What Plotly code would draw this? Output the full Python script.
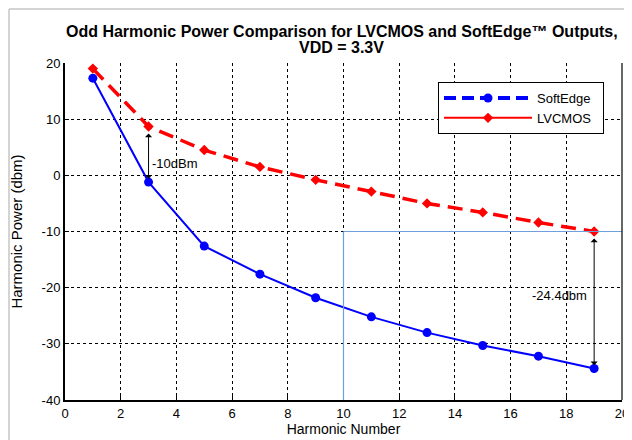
import plotly.graph_objects as go

harmonics = [1, 3, 5, 7, 9, 11, 13, 15, 17, 19]
softedge = [17.3, -1.2, -12.6, -17.6, -21.8, -25.2, -28.0, -30.3, -32.2, -34.4]
lvcmos = [19.0, 8.7, 4.5, 1.5, -0.8, -2.9, -5.0, -6.6, -8.4, -10.0]

x_ticks = [0, 2, 4, 6, 8, 10, 12, 14, 16, 18, 20]
y_ticks = [-40, -30, -20, -10, 0, 10, 20]

title_line1 = "Odd Harmonic Power Comparison for LVCMOS and SoftEdge™ Outputs,"
title_line2 = "VDD = 3.3V"
x_title = "Harmonic Number"
y_title = "Harmonic Power (dbm)"
diff_low_label = "-10dBm"
diff_high_label = "-24.4dbm"
legend_names = ["SoftEdge", "LVCMOS"]

BLUE = "#0000ff"
RED = "#ff0000"
FONT = "Liberation Sans, Arial, sans-serif"

# page has an 8px body margin: figure is 624x432 placed at (8, 8)
W, H = 624, 432
ML, MR, MT, MB = 57, 10, 55, 40
PW, PH = W - ML - MR, H - MT - MB

fig = go.Figure()

fig.add_trace(go.Scatter(x=harmonics, y=lvcmos, mode="lines+markers", showlegend=False,
                         line=dict(color=RED, width=3.5, dash="15px,8px"),
                         marker=dict(symbol="diamond", size=8, color=RED)))
fig.add_trace(go.Scatter(x=harmonics, y=softedge, mode="lines+markers", showlegend=False,
                         line=dict(color=BLUE, width=2),
                         marker=dict(symbol="circle", size=9, color=BLUE)))

fig.add_trace(go.Scatter(x=[None], y=[None], mode="lines+markers",
                         name=legend_names[0] + "\u00a0\u00a0",
                         line=dict(color=BLUE, width=4, dash="12px,6px"),
                         marker=dict(symbol="circle", size=9, color=BLUE)))
fig.add_trace(go.Scatter(x=[None], y=[None], mode="lines+markers",
                         name=legend_names[1],
                         line=dict(color=RED, width=2),
                         marker=dict(symbol="diamond", size=8, color=RED)))

shapes = [
    dict(type="line", xref="x", yref="y", x0=10, x1=10, y0=-10, y1=-40,
         line=dict(color="#6f9fdc", width=1.2)),
    dict(type="line", xref="x", yref="y", x0=10, x1=20, y0=-10, y1=-10,
         line=dict(color="#6f9fdc", width=1.2)),
    dict(type="line", xref="paper", yref="paper", x0=1, x1=1, y0=0, y1=1,
         line=dict(color="black", width=1.2)),
    dict(type="line", xref="paper", yref="paper", x0=(1 - ML) / PW, x1=(1 - ML) / PW,
         y0=-MB / PH, y1=(PH + MT - 1) / PH, line=dict(color="#d4d4d4", width=2)),
    dict(type="line", xref="paper", yref="paper", x0=(1 - ML) / PW, x1=(PW + MR) / PW,
         y0=(PH + MT - 1) / PH, y1=(PH + MT - 1) / PH, line=dict(color="#d4d4d4", width=2)),
]

annotations = [
    dict(x=0.497, y=(PH + MT - 40) / PH, xref="paper", yref="paper", text=title_line2,
         showarrow=False, xanchor="center", yanchor="middle",
         font=dict(family=FONT, size=16, color="black", weight="bold")),
    dict(x=3, y=-0.6, ax=3, ay=7.7, xref="x", yref="y", axref="x", ayref="y",
         text="", showarrow=True, arrowside="end+start", arrowhead=1, arrowsize=1.2,
         arrowwidth=1, arrowcolor="black"),
    dict(x=3.05, y=2.1, xref="x", yref="y", text=diff_low_label, showarrow=False,
         xanchor="left", font=dict(family=FONT, size=13, color="black")),
    dict(x=19, y=-33.8, ax=19, ay=-11.0, xref="x", yref="y", axref="x", ayref="y",
         text="", showarrow=True, arrowside="end+start", arrowhead=1, arrowsize=1.2,
         arrowwidth=1, arrowcolor="black"),
    dict(x=18.8, y=-21.4, xref="x", yref="y", text=diff_high_label, showarrow=False,
         xanchor="right", font=dict(family=FONT, size=13, color="black")),
]

fig.update_layout(
    width=W, height=H,
    margin=dict(l=ML, r=MR, t=MT, b=MB),
    paper_bgcolor="white", plot_bgcolor="white",
    font=dict(family=FONT, size=13, color="black"),
    title=dict(text=title_line1, x=0.497, xref="paper", xanchor="center",
               y=1 - 23 / H, yanchor="middle",
               font=dict(family=FONT, size=16, color="black", weight="bold")),
    showlegend=True,
    legend=dict(x=(438 - 65) / PW, y=(400 - 82) / PH, xanchor="left", yanchor="top",
                bgcolor="white", bordercolor="black", borderwidth=1,
                itemwidth=88, font=dict(family=FONT, size=13, color="black"),
                tracegroupgap=0, itemclick=False),
    shapes=shapes,
    annotations=annotations,
)

fig.update_xaxes(range=[0, 20], tickvals=x_ticks, ticktext=[str(v) for v in x_ticks],
                 showgrid=True, gridcolor="black", griddash="dot", gridwidth=1,
                 zeroline=False, showline=True, linecolor="black", linewidth=2,
                 ticks="inside", ticklen=4, tickcolor="black", automargin=False,
                 title=dict(text=x_title, standoff=5, font=dict(family=FONT, size=14)),
                 tickfont=dict(family=FONT, size=13), fixedrange=True)
fig.update_yaxes(range=[-40, 20], tickvals=y_ticks, ticktext=[str(v) for v in y_ticks],
                 showgrid=True, gridcolor="black", griddash="dot", gridwidth=1,
                 zeroline=False, showline=True, linecolor="black", linewidth=2,
                 ticks="inside", ticklen=4, tickcolor="black", automargin=False,
                 title=dict(text=y_title, standoff=15, font=dict(family=FONT, size=15)),
                 tickfont=dict(family=FONT, size=13), fixedrange=True)

fig.write_html("out.html")
